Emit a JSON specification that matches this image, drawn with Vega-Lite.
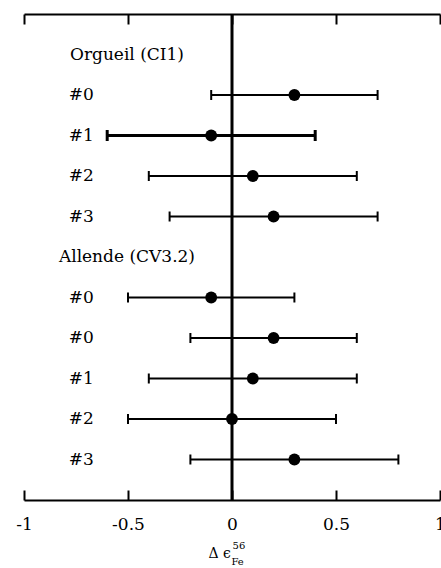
{
  "$schema": "https://vega.github.io/schema/vega-lite/v6.json",
  "width": 416,
  "height": 486,
  "autosize": {"type": "none"},
  "padding": {"left": 24, "top": 14, "right": 1, "bottom": 68},
  "background": "white",
  "config": {
    "view": {"stroke": null},
    "font": "DejaVu Serif",
    "axisX": {
      "grid": false, "domainColor": "black", "domainWidth": 2,
      "tickColor": "black", "tickWidth": 2, "tickSize": -10, "tickCount": 5,
      "labelColor": "black", "labelFontSize": 17, "labelPadding": 26,
      "labelFlush": false, "labelOverlap": false, "title": null
    },
    "axisTop": {"labels": false}
  },
  "datasets": {
    "samples": [
      {"group": "Orgueil", "label": "#0", "row": 2, "value": 0.3, "lo": -0.1, "hi": 0.7},
      {"group": "Orgueil", "label": "#1", "row": 3, "value": -0.1, "lo": -0.6, "hi": 0.4},
      {"group": "Orgueil", "label": "#2", "row": 4, "value": 0.1, "lo": -0.4, "hi": 0.6},
      {"group": "Orgueil", "label": "#3", "row": 5, "value": 0.2, "lo": -0.3, "hi": 0.7},
      {"group": "Allende", "label": "#0", "row": 7, "value": -0.1, "lo": -0.5, "hi": 0.3},
      {"group": "Allende", "label": "#0", "row": 8, "value": 0.2, "lo": -0.2, "hi": 0.6},
      {"group": "Allende", "label": "#1", "row": 9, "value": 0.1, "lo": -0.4, "hi": 0.6},
      {"group": "Allende", "label": "#2", "row": 10, "value": 0.0, "lo": -0.5, "hi": 0.5},
      {"group": "Allende", "label": "#3", "row": 11, "value": 0.3, "lo": -0.2, "hi": 0.8}
    ],
    "groups": [
      {"name": "Orgueil (CI1)", "row": 1},
      {"name": "Allende (CV3.2)", "row": 6}
    ]
  },
  "layer": [
    {
      "data": {"name": "samples"},
      "mark": {"type": "rule", "color": "black"},
      "encoding": {
        "x": {
          "field": "lo", "type": "quantitative",
          "scale": {"domain": [-1, 1], "nice": false, "zero": false},
          "axis": {
            "orient": "bottom", "title": null,
            "values": [-1, -0.5, 0, 0.5, 1],
            "labelExpr": "toString(datum.value)"
          }
        },
        "x2": {"field": "hi"},
        "y": {"field": "row", "type": "quantitative", "scale": {"domain": [0, 12], "reverse": true, "nice": false, "zero": false}, "axis": null},
        "strokeWidth": {"condition": {"test": "datum.group === 'Orgueil' && datum.label === '#1'", "value": 3}, "value": 2}
      }
    },
    {
      "data": {"name": "samples"},
      "transform": [
        {"filter": "!(datum.group === 'Orgueil' && datum.label === '#1')"},
        {"fold": ["lo", "hi"], "as": ["end", "xv"]}
      ],
      "mark": {"type": "tick", "orient": "vertical", "color": "black", "size": 10, "thickness": 2, "opacity": 1},
      "encoding": {
        "x": {"field": "xv", "type": "quantitative", "axis": null},
        "y": {"field": "row", "type": "quantitative", "axis": null}
      }
    },
    {
      "data": {"name": "samples"},
      "transform": [
        {"filter": "datum.group === 'Orgueil' && datum.label === '#1'"},
        {"fold": ["lo", "hi"], "as": ["end", "xv"]}
      ],
      "mark": {"type": "tick", "orient": "vertical", "color": "black", "size": 11, "thickness": 3, "opacity": 1},
      "encoding": {
        "x": {"field": "xv", "type": "quantitative", "axis": null},
        "y": {"field": "row", "type": "quantitative", "axis": null}
      }
    },
    {
      "data": {"values": [{}]},
      "mark": {"type": "rule", "color": "black", "strokeWidth": 3},
      "encoding": {"x": {"datum": 0, "type": "quantitative", "axis": null}}
    },
    {
      "data": {"name": "samples"},
      "mark": {"type": "circle", "color": "black", "opacity": 1, "size": 140},
      "encoding": {
        "x": {
          "field": "value", "type": "quantitative",
          "axis": {
            "orient": "top", "title": null, "labels": false,
            "values": [-1, -0.5, 0, 0.5, 1]
          }
        },
        "y": {"field": "row", "type": "quantitative", "axis": null}
      }
    },
    {
      "data": {"name": "samples"},
      "mark": {"type": "text", "align": "center", "baseline": "middle", "fontSize": 17, "color": "black"},
      "encoding": {
        "x": {"datum": -0.725, "type": "quantitative", "axis": null},
        "y": {"field": "row", "type": "quantitative", "axis": null},
        "text": {"field": "label"}
      }
    },
    {
      "data": {"name": "groups"},
      "mark": {"type": "text", "align": "center", "baseline": "middle", "fontSize": 17, "color": "black"},
      "encoding": {
        "x": {"datum": -0.505, "type": "quantitative", "axis": null},
        "y": {"field": "row", "type": "quantitative", "axis": null},
        "text": {"field": "name"}
      }
    },
    {
      "data": {"values": [{"t": "Δ ϵ"}]},
      "mark": {"type": "text", "align": "right", "baseline": "middle", "fontSize": 14, "color": "black"},
      "encoding": {
        "x": {"datum": -0.005, "type": "quantitative", "axis": null},
        "y": {"datum": 13.33, "type": "quantitative", "axis": null},
        "text": {"field": "t"}
      }
    },
    {
      "data": {"values": [{"t": "56"}]},
      "mark": {"type": "text", "align": "left", "baseline": "middle", "fontSize": 10, "color": "black"},
      "encoding": {
        "x": {"datum": 0.003, "type": "quantitative", "axis": null},
        "y": {"datum": 13.14, "type": "quantitative", "axis": null},
        "text": {"field": "t"}
      }
    },
    {
      "data": {"values": [{"t": "Fe"}]},
      "mark": {"type": "text", "align": "left", "baseline": "middle", "fontSize": 10, "color": "black"},
      "encoding": {
        "x": {"datum": -0.003, "type": "quantitative", "axis": null},
        "y": {"datum": 13.53, "type": "quantitative", "axis": null},
        "text": {"field": "t"}
      }
    }
  ]
}
